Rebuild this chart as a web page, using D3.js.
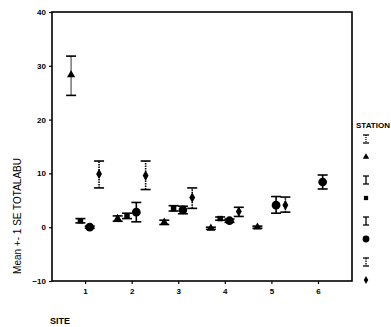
<!DOCTYPE html>
<html>
<head>
<meta charset="utf-8">
<script src="https://cdn.jsdelivr.net/npm/d3@7"></script>
<style>
  body { margin: 0; background: #fff; }
  svg { display: block; font-family: Arial, "Liberation Sans", sans-serif; }
</style>
</head>
<body>
<div id="chart"></div>
<script>
// Chart values
const sites = [1, 2, 3, 4, 5, 6];
const stations = ['1', '2', '3', '4'];
const stationOffsets = [-0.3, -0.1, 0.1, 0.3];
const yTicks = [-10, 0, 10, 20, 30, 40];

// mean and +-1 SE per station, one entry per site (null = no data)
const triangleMean = [28.3, 1.6, 0.9, -0.2, 0.0, null];
const triangleLow = [24.5, 1.1, 0.5, -0.4, -0.2, null];
const triangleHigh = [31.8, 2.1, 1.3, 0.0, 0.2, null];

const squareMean = [1.2, 2.1, 3.5, 1.6, null, null];
const squareLow = [0.8, 1.6, 3.0, 1.3, null, null];
const squareHigh = [1.6, 2.6, 4.0, 1.9, null, null];

const circleMean = [0.0, 2.8, 3.2, 1.2, 4.1, 8.4];
const circleLow = [-0.2, 1.0, 2.5, 0.9, 2.6, 7.1];
const circleHigh = [0.2, 4.6, 3.9, 1.5, 5.7, 9.7];

const diamondMean = [9.9, 9.6, 5.5, 2.9, 4.1, null];
const diamondLow = [7.3, 7.0, 3.5, 2.0, 2.8, null];
const diamondHigh = [12.3, 12.3, 7.3, 3.7, 5.6, null];

const series = [
    { name: stations[0], symbol: d3.symbolTriangle, size: 30, dash: '1,1', mean: triangleMean, low: triangleLow, high: triangleHigh },
    { name: stations[1], symbol: d3.symbolSquare, size: 30, dash: null, mean: squareMean, low: squareLow, high: squareHigh },
    { name: stations[2], symbol: d3.symbolCircle, size: 60, dash: null, mean: circleMean, low: circleLow, high: circleHigh },
    { name: stations[3], symbol: d3.symbolDiamond, size: 30, dash: '1.5,1', mean: diamondMean, low: diamondLow, high: diamondHigh }
];

const W = 391, H = 327;
const plot = { left: 52, right: 352, top: 12, bottom: 281 };

const svg = d3.select('#chart')
    .append('svg')
    .attr('width', W)
    .attr('height', H);

const x = d3.scaleLinear().domain([0.29, 6.73]).range([plot.left, plot.right]);
const y = d3.scaleLinear().domain([-10, 40]).range([plot.bottom, plot.top]);

// Frame
svg.append('rect')
    .attr('x', plot.left)
    .attr('y', plot.top)
    .attr('width', plot.right - plot.left)
    .attr('height', plot.bottom - plot.top)
    .attr('fill', 'none')
    .attr('stroke', '#000')
    .attr('stroke-width', 1.6);

// Axes
const yAxis = svg.append('g')
    .attr('transform', 'translate(' + plot.left + ',0)')
    .call(d3.axisLeft(y).tickValues(yTicks).tickSize(3).tickPadding(3));

const xAxis = svg.append('g')
    .attr('transform', 'translate(0,' + plot.bottom + ')')
    .call(d3.axisBottom(x).tickValues(sites).tickFormat(d3.format('d')).tickSize(3).tickPadding(4));

[xAxis, yAxis].forEach((g) => {
    g.select('.domain').remove();
    g.selectAll('line').attr('stroke', '#000').attr('stroke-width', 1.2);
    g.selectAll('text')
        .attr('fill', '#000')
        .style('font-size', '8px')
        .style('font-weight', 'bold');
});

// Axis titles
svg.append('text')
    .attr('transform', 'translate(21,216) rotate(-90)')
    .attr('text-anchor', 'middle')
    .style('font-size', '10px')
    .text('Mean +- 1 SE TOTALABU');

svg.append('text')
    .attr('x', 50)
    .attr('y', 324)
    .style('font-size', '9px')
    .style('font-weight', 'bold')
    .text('SITE');

// Error bars and means
series.forEach((s, si) => {
    const pts = sites.map((site, i) => ({
        x: site + stationOffsets[si], m: s.mean[i], lo: s.low[i], hi: s.high[i]
    })).filter((d) => d.m !== null);

    const g = svg.append('g');
    const cap = 5;

    g.selectAll('.bar').data(pts).enter().append('line')
        .attr('x1', (d) => x(d.x)).attr('x2', (d) => x(d.x))
        .attr('y1', (d) => y(d.lo)).attr('y2', (d) => y(d.hi))
        .attr('stroke', '#000').attr('stroke-width', 1.6)
        .attr('stroke-dasharray', s.dash);

    ['lo', 'hi'].forEach((k) => {
        g.selectAll('.cap-' + k).data(pts).enter().append('line')
            .attr('x1', (d) => x(d.x) - cap).attr('x2', (d) => x(d.x) + cap)
            .attr('y1', (d) => y(d[k])).attr('y2', (d) => y(d[k]))
            .attr('stroke', '#000').attr('stroke-width', 1.6);
    });

    g.selectAll('.pt').data(pts).enter().append('path')
        .attr('transform', (d) => 'translate(' + x(d.x) + ',' + y(d.m) + ')')
        .attr('d', d3.symbol().type(s.symbol).size(s.size))
        .attr('fill', '#000');
});

// Legend
const legend = svg.append('g').attr('transform', 'translate(366,0)');
legend.append('text')
    .attr('x', -10)
    .attr('y', 128)
    .style('font-size', '8px')
    .style('font-weight', 'bold')
    .text('STATION');

series.forEach((s, si) => {
    const top = 139 + si * 41;
    const lg = legend.append('g');
    lg.append('line').attr('x1', 0).attr('x2', 0).attr('y1', top - 4).attr('y2', top + 4)
        .attr('stroke', '#000').attr('stroke-width', 1.3).attr('stroke-dasharray', s.dash);
    [-4, 4].forEach((dy) => {
        lg.append('line').attr('x1', -3).attr('x2', 3).attr('y1', top + dy).attr('y2', top + dy)
            .attr('stroke', '#000').attr('stroke-width', 1.3);
    });
    lg.append('path')
        .attr('transform', 'translate(0,' + (top + 18) + ')')
        .attr('d', d3.symbol().type(s.symbol).size(s.size * 0.6))
        .attr('fill', '#000');
});
</script>
</body>
</html>
